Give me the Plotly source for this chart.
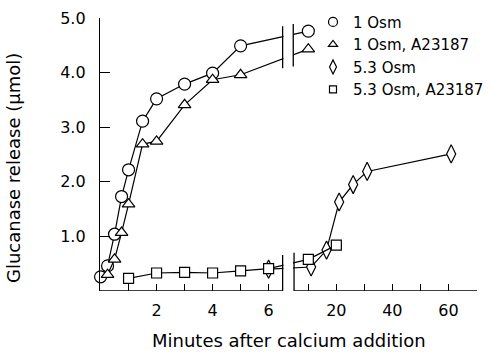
import plotly.graph_objects as go

# ---------------- data (minutes, µmol) ----------------
circ_t = [0, 0.25, 0.5, 0.75, 1.0, 1.5, 2, 3, 4, 5, 10]
circ_y = [0.26, 0.46, 1.04, 1.73, 2.22, 3.11, 3.52, 3.79, 3.99, 4.49, 4.76]

tri_t = [0.25, 0.5, 0.75, 1.0, 1.5, 2, 3, 4, 5, 10]
tri_y = [0.30, 0.58, 1.07, 1.59, 2.69, 2.74, 3.41, 3.87, 3.96, 4.43]

dia_t = [6, 11, 16.5, 21, 26, 31, 61]
dia_y = [0.40, 0.44, 0.75, 1.63, 1.95, 2.19, 2.51]

sq_t = [1, 2, 3, 4, 5, 6, 10, 20]
sq_y = [0.23, 0.33, 0.34, 0.33, 0.37, 0.41, 0.58, 0.84]

names = ["1 Osm", "1 Osm, A23187", "5.3 Osm", "5.3 Osm, A23187"]
symbols = ["circle", "triangle-up", "diamond-tall", "square"]
sizes = [12, 11, 13, 10]

left_ticks = [1, 2, 3, 4, 5, 6]
left_labels = ["", "2", "", "4", "", "6"]
right_ticks = [10, 20, 30, 40, 50, 60]
right_labels = ["", "20", "", "40", "", "60"]
y_ticks = [1, 2, 3, 4, 5]
y_labels = ["1.0", "2.0", "3.0", "4.0", "5.0"]

# ---------------- broken x scale ----------------
BREAK_LEFT = 6.5      # end of left (0-6.5 min) segment
RIGHT_SCALE = 0.1     # right segment compressed 10x
RIGHT_OFFSET = 6.418


def xs(m):
    return m if m <= BREAK_LEFT else RIGHT_OFFSET + RIGHT_SCALE * m


def xmap(lst):
    return [xs(v) for v in lst]


RIGHT_START = RIGHT_OFFSET + RIGHT_SCALE * 4.9
X_END = 13.44

FONT = "DejaVu Sans"
fig = go.Figure()

series = [(circ_t, circ_y), (tri_t, tri_y), (dia_t, dia_y), (sq_t, sq_y)]
for (t, y), nm, sym, sz in zip(series, names, symbols, sizes):
    fig.add_trace(go.Scatter(
        x=xmap(t), y=y, mode="lines+markers", showlegend=False, cliponaxis=False,
        line=dict(color="black", width=1.2),
        marker=dict(symbol=sym, size=sz, color="white", line=dict(color="black", width=1.2)),
    ))

for nm, sym, sz in zip(names, symbols, sizes):
    fig.add_trace(go.Scatter(
        x=[None], y=[None], mode="markers", name=nm,
        marker=dict(symbol=sym, size=sz - 3, color="white", line=dict(color="black", width=1.2)),
    ))

shapes = [
    # white gap hiding data lines inside the axis break
    dict(type="rect", xref="x", yref="y", x0=BREAK_LEFT + 0.03, x1=6.87, y0=-0.3, y1=5.2,
         fillcolor="white", line=dict(width=0), layer="above"),
    # x-axis line segments
    dict(type="line", xref="x", yref="y", x0=-0.02, x1=BREAK_LEFT, y0=0, y1=0,
         line=dict(color="black", width=1.3), layer="above"),
    dict(type="line", xref="x", yref="y", x0=RIGHT_START, x1=X_END, y0=0, y1=0,
         line=dict(color="black", width=1.3), layer="above"),
    # break marks (bottom)
    dict(type="line", xref="x", yref="y", x0=BREAK_LEFT, x1=BREAK_LEFT, y0=-0.2, y1=0.66,
         line=dict(color="black", width=1.3), layer="above"),
    dict(type="line", xref="x", yref="y", x0=RIGHT_START, x1=RIGHT_START, y0=-0.2, y1=0.70,
         line=dict(color="black", width=1.3), layer="above"),
    # break marks (top)
    dict(type="line", xref="x", yref="y", x0=BREAK_LEFT, x1=BREAK_LEFT, y0=4.08, y1=4.85,
         line=dict(color="black", width=1.3), layer="above"),
    dict(type="line", xref="x", yref="y", x0=6.88, x1=6.88, y0=4.11, y1=4.89,
         line=dict(color="black", width=1.3), layer="above"),
]

fig.update_layout(
    width=492, height=354,
    margin=dict(l=100, r=15, t=18, b=63, autoexpand=False),
    paper_bgcolor="white", plot_bgcolor="white",
    font=dict(family=FONT, size=16, color="black"),
    shapes=shapes,
    legend=dict(x=0.565, xanchor="left", y=1.045, yanchor="top",
                font=dict(family=FONT, size=15), bgcolor="rgba(0,0,0,0)",
                tracegroupgap=0, itemwidth=30),
    xaxis=dict(range=[-0.02, X_END], showgrid=False, zeroline=False, showline=False,
               tickmode="array", tickvals=xmap(left_ticks) + xmap(right_ticks),
               ticktext=left_labels + right_labels,
               ticks="inside", ticklen=7, tickwidth=1.2, tickcolor="black",
               ticklabelstandoff=8, tickfont=dict(family=FONT, size=16)),
    yaxis=dict(range=[0, 5], showgrid=False, zeroline=False, showline=True,
               linecolor="black", linewidth=1.3,
               tickmode="array", tickvals=y_ticks, ticktext=y_labels,
               ticks="inside", ticklen=10, tickwidth=1.2, tickcolor="black",
               ticklabelstandoff=10, tickfont=dict(family=FONT, size=16)),
    annotations=[
        dict(text="Glucanase release (\u03bcmol)", xref="paper", yref="paper",
             x=-0.231, y=0.45, xanchor="center", yanchor="middle", textangle=-90,
             showarrow=False, font=dict(family=FONT, size=18)),
        dict(text="Minutes after calcium addition", xref="paper", yref="paper",
             x=0.501, y=-0.18, xanchor="center", yanchor="middle",
             showarrow=False, font=dict(family=FONT, size=18)),
    ],
)

fig.write_html("out.html")
